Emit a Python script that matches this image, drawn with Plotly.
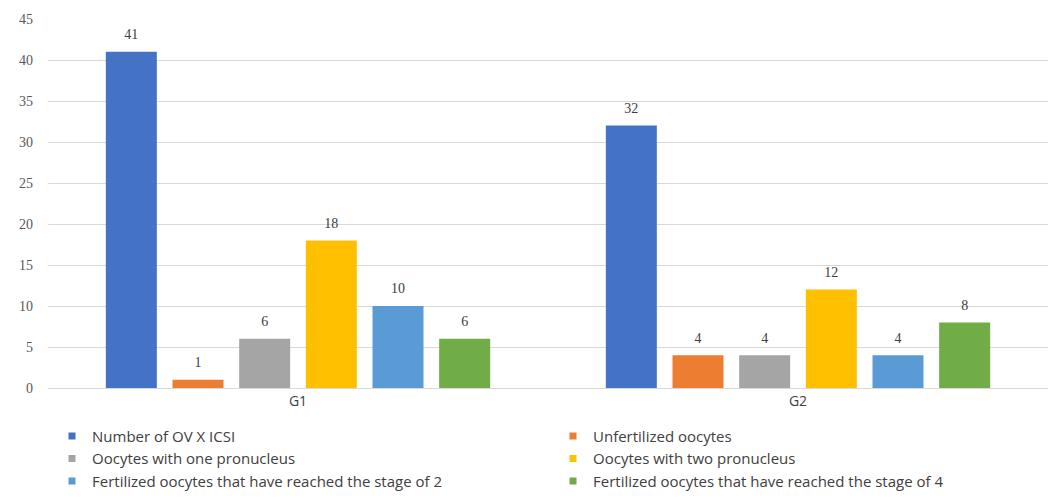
import plotly.graph_objects as go

# Groups and series
groups = ["G1", "G2"]
series_names = [
    "Number of OV X ICSI",
    "Unfertilized oocytes",
    "Oocytes with one pronucleus",
    "Oocytes with two pronucleus",
    "Fertilized oocytes that have reached the stage of 2",
    "Fertilized oocytes that have reached the stage of 4",
]
ov_icsi = [41, 32]
unfertilized = [1, 4]
one_pronucleus = [6, 4]
two_pronucleus = [18, 12]
stage_2 = [10, 4]
stage_4 = [6, 8]

series_values = [ov_icsi, unfertilized, one_pronucleus, two_pronucleus, stage_2, stage_4]
colors = ["#4472C4", "#ED7D31", "#A5A5A5", "#FFC000", "#5B9BD5", "#70AD47"]

fig = go.Figure()

for i, (name, vals, col) in enumerate(zip(series_names, series_values, colors)):
    fig.add_trace(go.Bar(
        x=groups, y=vals, name=name,
        marker=dict(color=col, line=dict(width=0)),
        offsetgroup=str(i),
        showlegend=False,
    ))
    # value labels, grouped alongside the bars with some headroom
    fig.add_trace(go.Scatter(
        x=groups, y=vals, mode="markers+text",
        offsetgroup=str(i),
        marker=dict(size=13, opacity=0),
        text=[str(v) for v in vals],
        textposition="top center",
        textfont=dict(family="Liberation Serif", size=14, color="#404040"),
        cliponaxis=False, hoverinfo="skip",
        showlegend=False,
    ))

# Legend entries with small square swatches
for name, col in zip(series_names, colors):
    fig.add_trace(go.Scatter(
        x=[None], y=[None], mode="markers", name=name,
        marker=dict(symbol="square", size=7, color=col),
        showlegend=True,
    ))

fig.update_layout(
    width=1048, height=503,
    margin=dict(l=48, r=0, t=19, b=115, autoexpand=False),
    paper_bgcolor="white", plot_bgcolor="white",
    barmode="group", bargap=0.2, bargroupgap=0.235,
    scattermode="group", scattergap=0.2,
    showlegend=True,
    legend=dict(
        orientation="h", x=0.004, xref="paper", y=-0.086, yanchor="top",
        entrywidth=456, entrywidthmode="pixels",
        font=dict(family="Open Sans", size=15, color="#404040"),
        itemwidth=30, tracegroupgap=0,
    ),
    xaxis=dict(
        showgrid=False, showline=True, linecolor="#d9d9d9", linewidth=1,
        tickfont=dict(family="Open Sans", size=14, color="#404040"),
        ticks="", ticklabelstandoff=0,
    ),
    yaxis=dict(
        range=[0, 45], dtick=5, tick0=0,
        showgrid=True, gridcolor="#d9d9d9", gridwidth=1,
        zeroline=False,
        tickfont=dict(family="Liberation Serif", size=14, color="#595959"),
        ticklabelstandoff=14,
    ),
)

fig.write_html("out.html")
